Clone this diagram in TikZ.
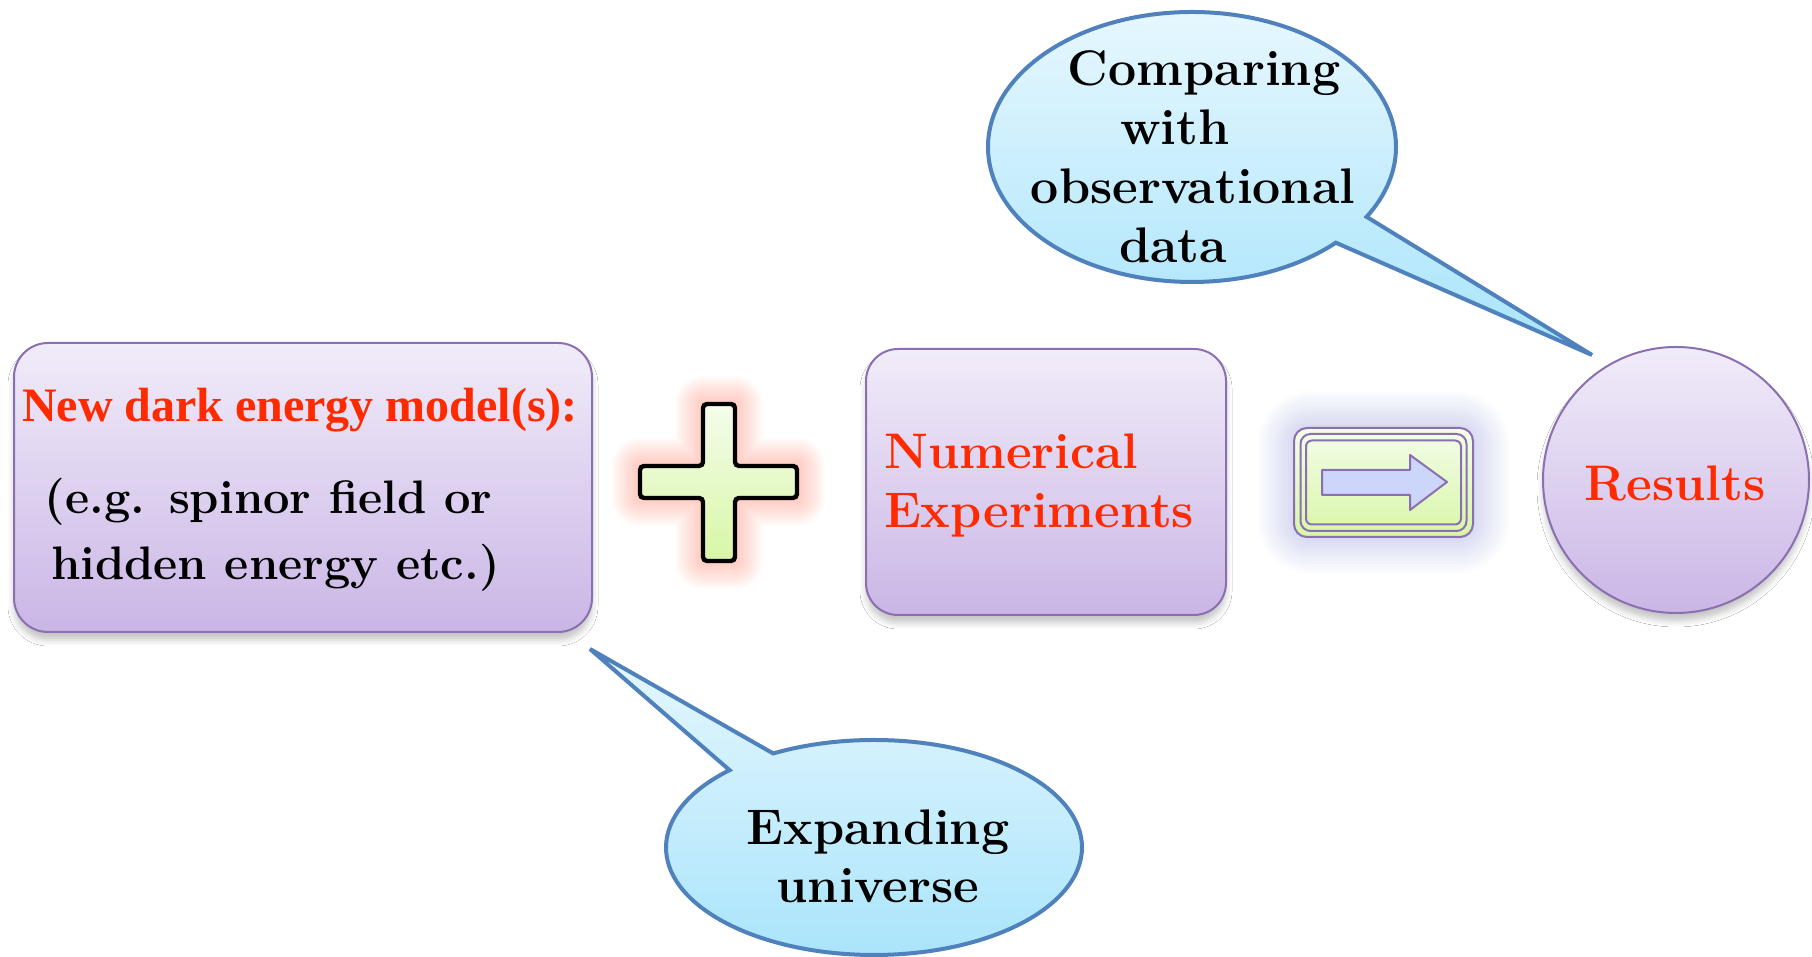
\documentclass[tikz,border=0pt]{standalone}
\usepackage{fontspec}
\newfontfamily\timesfont{Liberation Serif}
\usetikzlibrary{shapes.geometric,shapes.callouts,shadows.blur,calc}
\definecolor{boxtop}{HTML}{F1ECF9}
\definecolor{boxbot}{HTML}{CAB6E6}
\definecolor{boxline}{HTML}{8A70B0}
\definecolor{bubtop}{HTML}{E6F7FE}
\definecolor{bubbot}{HTML}{A8E4FB}
\definecolor{bubline}{HTML}{4F81BD}
\definecolor{txtred}{HTML}{FF2A00}
\definecolor{plustop}{HTML}{F4FDEB}
\definecolor{plusbot}{HTML}{D8F6A6}
\definecolor{arrowfill}{HTML}{CCD5FA}
\definecolor{glowred}{HTML}{FF6040}
\definecolor{glowblue}{HTML}{7A88F0}
\begin{document}
\begin{tikzpicture}[x=0.5pt,y=0.5pt,
  every node/.style={inner sep=0pt, outer sep=0pt},
  purplebox/.style={draw=boxline, line width=1pt, top color=boxtop, bottom color=boxbot,
    blur shadow={shadow xshift=0pt, shadow yshift=-4pt, shadow blur radius=3pt, shadow opacity=22}},
  bubble/.style={ellipse callout, draw=bubline, line width=2pt, top color=bubtop, bottom color=bubbot},
  bigtext/.style={font=\fontsize{25}{29.5}\selectfont\bfseries},
  redtext/.style={text=txtred},
  frameline/.style={draw=boxline, line width=1pt},
]
\useasboundingbox[fill=white] (0,0) rectangle (1812,957);

% left box
\node[purplebox, rounded corners=17pt, minimum width=289pt, minimum height=144.5pt] (model) at (303,469.5) {};
\node[font=\timesfont\fontsize{24}{28}\selectfont\bfseries, text=txtred] (modeltitle) at (300,547) {New dark energy model(s):};
\node[font=\fontsize{23.5}{33}\selectfont\bfseries, align=left, anchor=west] (modelbody) at (45,422) {(e.g. spinor field or\\ \hspace*{3pt}hidden energy etc.)};

% plus with red glow
\foreach \w in {2,4,...,28} {
  \draw[glowred, opacity=0.022, line width=\w pt, line join=round]
    (703,396) -- (735,396) -- (735,459) -- (797,459) -- (797,491) -- (735,491) -- (735,553) -- (703,553) -- (703,491) -- (640,491) -- (640,459) -- (703,459) -- cycle;
}
\draw[line width=2.2pt, rounded corners=2pt, top color=plustop, bottom color=plusbot]
    (703,396) -- (735,396) -- (735,459) -- (797,459) -- (797,491) -- (735,491) -- (735,553) -- (703,553) -- (703,491) -- (640,491) -- (640,459) -- (703,459) -- cycle;

% middle box
\node[purplebox, rounded corners=16pt, minimum width=180pt, minimum height=133pt] (numexp) at (1046,475) {};
\node[bigtext, redtext, align=left, anchor=west] (numtext) at (884,471.5) {Numerical\\Experiments};

% arrow box with blue glow
\foreach \w in {3,6,...,36} {
  \draw[glowblue, opacity=0.024, line width=\w pt, rounded corners=8pt] (1294,420) rectangle (1473,529);
}
\node[frameline, rounded corners=6.5pt, minimum width=89.5pt, minimum height=54.5pt, top color=plustop, bottom color=plusbot] (arrowbox) at (1383.5,474.5) {};
\node[frameline, rounded corners=5pt, minimum width=83pt, minimum height=48.5pt] (arrowmid) at (arrowbox.center) {};
\node[frameline, rounded corners=3pt, minimum width=77.5pt, minimum height=42pt] (arrowin) at (arrowbox.center) {};
\draw[frameline, fill=arrowfill, line join=round]
  (1322,462) -- (1410,462) -- (1410,447) -- (1447,475) -- (1410,502) -- (1410,487) -- (1322,487) -- cycle;

% results circle
\node[purplebox, circle, minimum size=133pt] (results) at (1676,477) {};
\node[bigtext, redtext] (restext) at (1675,474) {Results};

% callouts
\coordinate (tipTop) at (1592,602);
\node[bubble, callout absolute pointer=(tipTop), callout pointer arc=14, minimum width=204pt, minimum height=135pt] (cmpbubble) at (1192,810) {};
\node[bigtext, align=center] (cmptext) at (1204,800) {Comparing\\\mbox{with\hspace{29pt}}\\\mbox{observational\hspace{11pt}}\\\mbox{data\hspace{31pt}}};

\coordinate (tipBot) at (590,308);
\node[bubble, callout absolute pointer=(tipBot), callout pointer arc=15, minimum width=208pt, minimum height=107.5pt] (expbubble) at (874,109.5) {};
\node[font=\fontsize{25}{29}\selectfont\bfseries, align=center] (exptext) at (878,101) {Expanding\\universe};
\end{tikzpicture}
\end{document}
